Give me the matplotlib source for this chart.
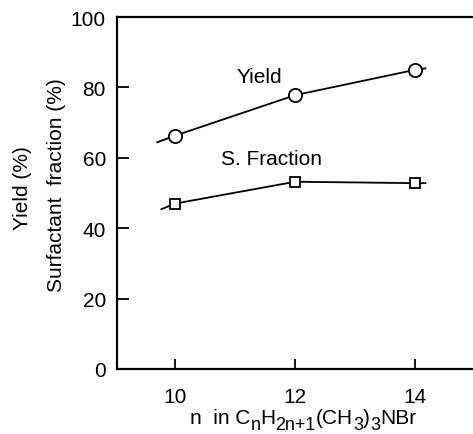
import matplotlib
matplotlib.use("Agg")
import matplotlib.pyplot as plt

plt.rcParams['font.family'] = ['Liberation Sans', 'DejaVu Sans']

# chain length n and measured values
n_values = [10, 12, 14]
yield_pct = [66.3, 77.8, 85.0]
sfraction_pct = [47.0, 53.2, 52.8]

# guide curves drawn through the points (extended slightly past the ends)
yield_curve_x = [9.7, 10, 12, 14, 14.17]
yield_curve_y = [64.4, 66.3, 77.8, 85.0, 85.4]
sfrac_curve_x = [9.77, 10, 12, 14, 14.17]
sfrac_curve_y = [45.4, 47.0, 53.2, 52.8, 52.8]

x_ticks = [10, 12, 14]
y_ticks = [0, 20, 40, 60, 80, 100]

FS = 15
W, H = 473, 435
fig = plt.figure(figsize=(W / 100, H / 100), dpi=100)
left_px, bottom_px, top_px = 117, 370, 18
xmin, xmax = 9.03, 15.03
ppu = 60.0
ax = fig.add_axes([left_px / W, (H - bottom_px) / H,
                   (xmax - xmin) * ppu / W, (bottom_px - top_px) / H])

ax.plot(yield_curve_x, yield_curve_y, color='black', lw=1.3)
ax.plot(sfrac_curve_x, sfrac_curve_y, color='black', lw=1.3)
ax.plot(n_values, yield_pct, 'o', ms=9.5, mfc='white', mec='black', mew=1.3)
ax.plot(n_values, sfraction_pct, 's', ms=7.5, mfc='white', mec='black', mew=1.3)

ax.text(11.4, 83, 'Yield', fontsize=FS, ha='center', va='center')
ax.text(11.6, 59.8, 'S. Fraction', fontsize=FS, ha='center', va='center')

ax.set_xlim(xmin, xmax)
ax.set_ylim(0, 100)
ax.set_xticks(x_ticks)
ax.set_yticks(y_ticks)
ax.tick_params(axis='y', direction='in', length=8.5, width=1.3, pad=8, labelsize=FS)
ax.tick_params(axis='x', direction='in', length=7, width=1.3, pad=13, labelsize=FS)
for s in ax.spines.values():
    s.set_linewidth(1.6)

fig.text(22 / W, 1 - 188 / H, 'Yield (%)', rotation=90, fontsize=FS,
         ha='center', va='center')
fig.text(57 / W, 1 - 185 / H, 'Surfactant  fraction (%)', rotation=90, fontsize=FS,
         ha='center', va='center')

# x-axis label with large, lowered subscripts, laid out piece by piece
pieces = [('n  in C', False), ('n', True), ('H', False), ('2n+1', True),
          ('(CH', False), ('3', True), (')', False), ('3', True), ('NBr', False)]
sub_scale = 0.86
sub_drop = 6  # pixels
baseline_px = 424
center_px = 303
renderer = fig.canvas.get_renderer()
widths = []
for txt, sub in pieces:
    t = fig.text(0, 0, txt, fontsize=FS * (sub_scale if sub else 1))
    widths.append(t.get_window_extent(renderer).width)
    t.remove()
x = center_px - sum(widths) / 2
for (txt, sub), w in zip(pieces, widths):
    y = baseline_px + (sub_drop if sub else 0)
    fig.text(x / W, 1 - y / H, txt, fontsize=FS * (sub_scale if sub else 1),
             ha='left', va='baseline')
    x += w

fig.savefig('out.png', dpi=100)
